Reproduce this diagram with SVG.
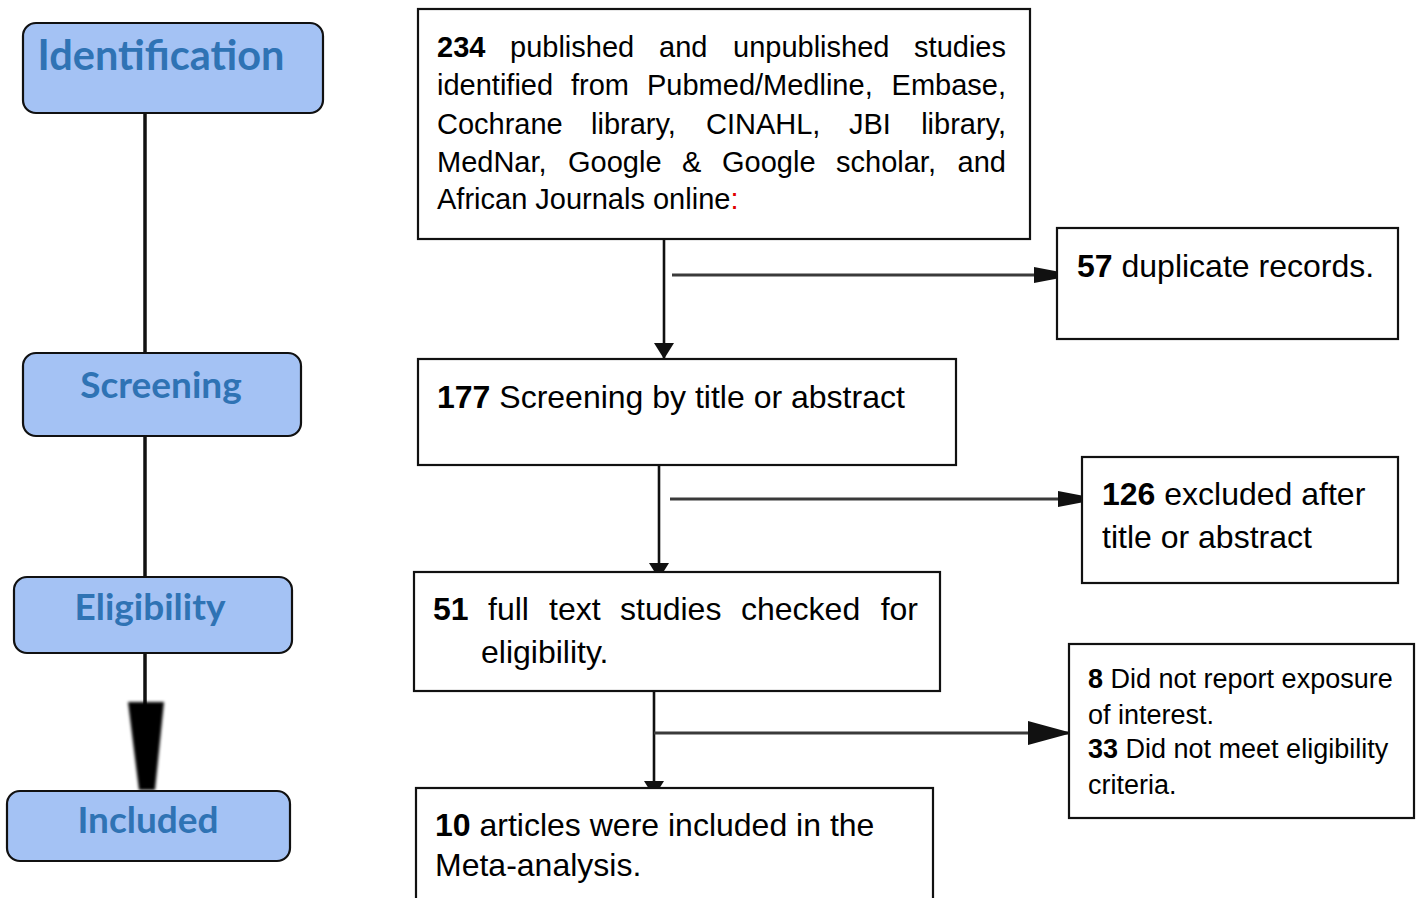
<svg xmlns="http://www.w3.org/2000/svg" width="1419" height="898" viewBox="0 0 1419 898">
<style>
.stage rect{fill:#a4c2f4;stroke:#111;stroke-width:2.2}
.stage text{font-family:Lato,"Open Sans","DejaVu Sans",sans-serif;font-weight:bold;fill:#2f73b4;text-anchor:middle}
.box rect{fill:#fff;stroke:#111;stroke-width:2.2}
.box text{font-family:"Liberation Sans",Arial,sans-serif;fill:#000}
.b{font-weight:bold}
.vline{stroke:#111;stroke-width:2.6;fill:none}
.hline{stroke:#3a3a3a;stroke-width:3.2;fill:none}
.sline{stroke:#111;stroke-width:3.5;fill:none}
</style>
<defs>
<marker id="av" viewBox="0 0 16 20" refX="16" refY="10" markerWidth="16" markerHeight="20" markerUnits="userSpaceOnUse" orient="auto"><path d="M0,0 L16,10 L0,20 z" fill="#111"/></marker>
<marker id="ah" viewBox="0 0 42 16" refX="42" refY="8" markerWidth="42" markerHeight="16" markerUnits="userSpaceOnUse" orient="auto"><path d="M0,0 L42,8 L0,16 z" fill="#111"/></marker>
<marker id="ah2" viewBox="0 0 44 24" refX="44" refY="12" markerWidth="44" markerHeight="24" markerUnits="userSpaceOnUse" orient="auto"><path d="M0,0 L44,12 L0,24 z" fill="#111"/></marker>
<filter id="blur" x="-20%" y="-20%" width="140%" height="140%"><feGaussianBlur stdDeviation="1.8"/></filter>
</defs>
<rect width="1419" height="898" fill="#fff"/>

<g id="connectors">
<line class="sline" x1="145" y1="113" x2="145" y2="353"/>
<line class="sline" x1="145" y1="436" x2="145" y2="577"/>
<line class="sline" x1="145" y1="653" x2="145" y2="720"/>
<polygon points="128,702 164,702 155,790 139,790" fill="#000" filter="url(#blur)"/>
<line class="vline" x1="664" y1="227" x2="664" y2="359" marker-end="url(#av)"/>
<line class="hline" x1="672" y1="275" x2="1076" y2="275" marker-end="url(#ah)"/>
<line class="vline" x1="659" y1="459" x2="659" y2="579" marker-end="url(#av)"/>
<line class="hline" x1="670" y1="499" x2="1100" y2="499" marker-end="url(#ah)"/>
<line class="vline" x1="654" y1="691" x2="654" y2="797" marker-end="url(#av)"/>
<line class="hline" x1="654" y1="733" x2="1072" y2="733" marker-end="url(#ah2)"/>
</g>

<g id="stage-identification" class="stage">
<rect x="23" y="23" width="300" height="90" rx="13"/>
<text x="161" y="70" font-size="41.5">Identification</text>
</g>
<g id="stage-screening" class="stage">
<rect x="23" y="353" width="278" height="83" rx="13"/>
<text x="161" y="398" font-size="37">Screening</text>
</g>
<g id="stage-eligibility" class="stage">
<rect x="14" y="577" width="278" height="76" rx="13"/>
<text x="150" y="620" font-size="37">Eligibility</text>
</g>
<g id="stage-included" class="stage">
<rect x="7" y="791" width="283" height="70" rx="13"/>
<text x="148" y="833" font-size="37">Included</text>
</g>

<g id="box-identified" class="box">
<rect x="418" y="9" width="612" height="230"/>
<g font-size="29">
<text x="437" y="57" class="b">234</text>
<text x="510" y="57">published</text>
<text x="659" y="57">and</text>
<text x="733" y="57">unpublished</text>
<text x="1006" y="57" text-anchor="end">studies</text>
<text x="437" y="95">identified</text>
<text x="571" y="95">from</text>
<text x="647" y="95">Pubmed/Medline,</text>
<text x="1006" y="95" text-anchor="end">Embase,</text>
<text x="437" y="134">Cochrane</text>
<text x="591" y="134">library,</text>
<text x="706" y="134">CINAHL,</text>
<text x="849" y="134">JBI</text>
<text x="1006" y="134" text-anchor="end">library,</text>
<text x="437" y="172">MedNar,</text>
<text x="568" y="172">Google</text>
<text x="682" y="172">&amp;</text>
<text x="722" y="172">Google</text>
<text x="836" y="172">scholar,</text>
<text x="1006" y="172" text-anchor="end">and</text>
<text x="437" y="209">African Journals online<tspan fill="#e00000">:</tspan></text>
</g>
</g>

<g id="box-duplicates" class="box">
<rect x="1057" y="228" width="341" height="111"/>
<text x="1077" y="277" font-size="32"><tspan class="b">57</tspan> duplicate records.</text>
</g>

<g id="box-screening" class="box">
<rect x="418" y="359" width="538" height="106"/>
<text x="437" y="408" font-size="32"><tspan class="b">177</tspan> Screening by title or abstract</text>
</g>

<g id="box-excluded" class="box">
<rect x="1082" y="457" width="316" height="126"/>
<text x="1102" y="505" font-size="32"><tspan class="b">126</tspan> excluded after</text>
<text x="1102" y="548" font-size="32">title or abstract</text>
</g>

<g id="box-fulltext" class="box">
<rect x="414" y="572" width="526" height="119"/>
<g font-size="32">
<text x="433" y="620" class="b">51</text>
<text x="488" y="620">full</text>
<text x="549" y="620">text</text>
<text x="620" y="620">studies</text>
<text x="741" y="620">checked</text>
<text x="918" y="620" text-anchor="end">for</text>
<text x="481" y="663">eligibility.</text>
</g>
</g>

<g id="box-reasons" class="box">
<rect x="1069" y="644" width="345" height="174"/>
<g font-size="27">
<text x="1088" y="688"><tspan class="b">8</tspan> Did not report exposure</text>
<text x="1088" y="724">of interest.</text>
<text x="1088" y="758"><tspan class="b">33</tspan> Did not meet eligibility</text>
<text x="1088" y="794">criteria.</text>
</g>
</g>

<g id="box-included" class="box">
<rect x="416" y="788" width="517" height="130"/>
<text x="435" y="836" font-size="32"><tspan class="b">10</tspan> articles were included in the</text>
<text x="435" y="876" font-size="32">Meta-analysis.</text>
</g>
</svg>
